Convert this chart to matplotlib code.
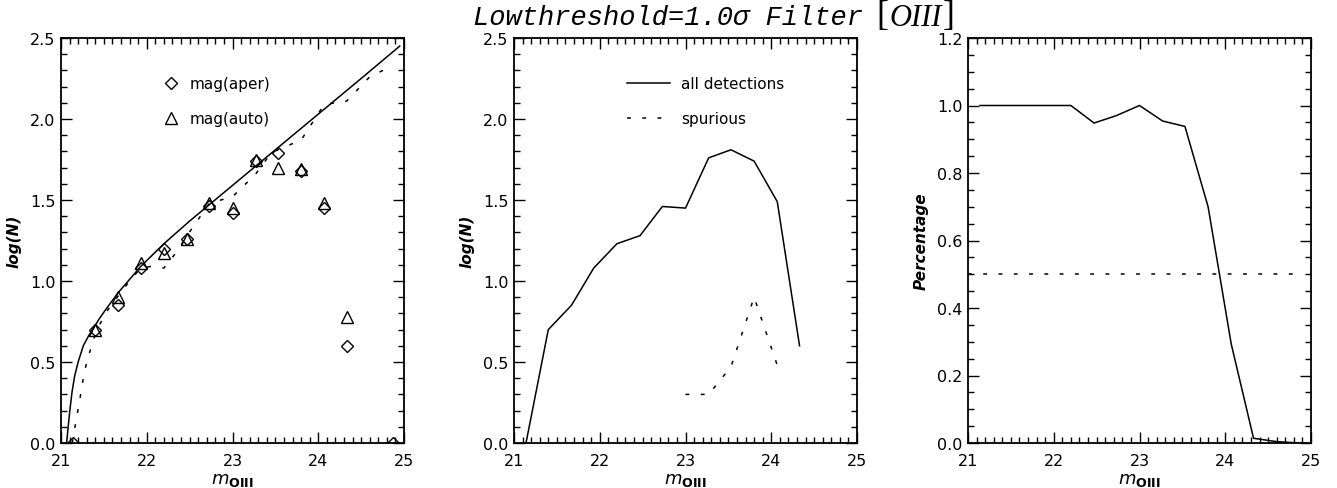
import matplotlib
matplotlib.use("Agg")
import matplotlib.pyplot as plt
from matplotlib.ticker import MultipleLocator, FormatStrFormatter

# magnitude bins
mag_bins = [21.14, 21.40, 21.67, 21.93, 22.20, 22.47, 22.73, 23.00,
            23.27, 23.53, 23.80, 24.07, 24.33, 24.60, 24.87]

# panel 1: counts per bin
aper_x = [21.14, 21.40, 21.67, 21.93, 22.20, 22.47, 22.73, 23.00,
          23.27, 23.53, 23.80, 24.07, 24.33, 24.87]
aper_y = [0.0, 0.70, 0.85, 1.08, 1.20, 1.26, 1.46, 1.42,
          1.74, 1.79, 1.68, 1.45, 0.60, 0.0]
auto_x = [21.40, 21.67, 21.93, 22.20, 22.47, 22.73, 23.00,
          23.27, 23.53, 23.80, 24.07, 24.33]
auto_y = [0.70, 0.90, 1.11, 1.17, 1.26, 1.48, 1.45,
          1.75, 1.70, 1.69, 1.48, 0.78]

# model curve (solid) and input distribution (dotted)
fit_x = [21.066, 21.08, 21.105, 21.13, 21.16, 21.20, 21.26, 21.32, 21.38,
         21.45, 21.53, 21.67, 21.80, 21.93, 22.20, 22.50, 23.00, 23.50,
         24.00, 24.50, 24.95]
fit_y = [0.0, 0.08, 0.21, 0.32, 0.415, 0.50, 0.60, 0.66, 0.71,
         0.77, 0.83, 0.93, 1.01, 1.09, 1.23, 1.37, 1.59, 1.81,
         2.03, 2.25, 2.45]
inp_x = [21.13, 21.18, 21.22, 21.26, 21.30, 21.38, 21.45, 21.53, 21.67,
         21.80, 21.93, 22.05, 22.20, 22.35, 22.47, 22.60, 22.73, 23.00,
         23.27, 23.45, 23.53, 23.80, 24.07, 24.33, 24.60, 24.87]
inp_y = [0.0, 0.15, 0.27, 0.40, 0.50, 0.64, 0.73, 0.81, 0.91,
         1.00, 1.08, 1.09, 1.08, 1.18, 1.28, 1.38, 1.48, 1.52,
         1.66, 1.79, 1.81, 1.87, 2.09, 2.11, 2.26, 2.33]

# panel 2
all_x = [21.14, 21.40, 21.67, 21.93, 22.20, 22.47, 22.73, 23.00,
         23.27, 23.53, 23.80, 24.07, 24.33]
all_y = [0.0, 0.70, 0.85, 1.08, 1.23, 1.28, 1.46, 1.45,
         1.76, 1.81, 1.74, 1.49, 0.60]
spur_x = [23.00, 23.27, 23.53, 23.80, 24.07]
spur_y = [0.30, 0.30, 0.47, 0.90, 0.48]

# panel 3
pct_y = [1.0, 1.0, 1.0, 1.0, 1.0, 0.948, 0.97, 1.0,
         0.954, 0.938, 0.70, 0.293, 0.014, 0.004, 0.0]
half_level = 0.5

DOT = (0, (2.5, 7.5))
plt.rcParams['font.family'] = 'DejaVu Sans'
plt.rcParams['mathtext.fontset'] = 'dejavusans'

fig = plt.figure(figsize=(13.37, 4.89), dpi=100)
W, H = 1337.0, 489.0
lefts = [61, 514, 968]
axes = [fig.add_axes([l / W, 1 - 444 / H, 343 / W, 405 / H]) for l in lefts]


def style(ax, ymax, ymaj, ymin_step, ylabel):
    ax.set_xlim(21, 25)
    ax.set_ylim(0, ymax)
    ax.xaxis.set_major_locator(MultipleLocator(1))
    ax.xaxis.set_minor_locator(MultipleLocator(0.1))
    ax.yaxis.set_major_locator(MultipleLocator(ymaj))
    ax.yaxis.set_minor_locator(MultipleLocator(ymin_step))
    ax.yaxis.set_major_formatter(FormatStrFormatter('%.1f'))
    ax.tick_params(which='both', direction='in', top=True, right=True,
                   width=1, labelsize=11.5)
    ax.tick_params(axis='y', pad=4)
    ax.tick_params(axis='x', pad=7)
    ax.tick_params(which='major', length=8)
    ax.tick_params(which='minor', length=4)
    for s in ax.spines.values():
        s.set_linewidth(1.3)
    ax.set_xlabel(r'$m_{\mathbf{OIII}}$', fontsize=13, labelpad=2)
    ax.set_ylabel(ylabel, fontsize=11, fontweight='bold', style='italic',
                  labelpad=6)


# panel 1
ax = axes[0]
style(ax, 2.5, 0.5, 0.1, 'log(N)')
ax.plot(fit_x, fit_y, color='black', lw=1.1)
ax.plot(inp_x, inp_y, color='black', lw=1.1, ls=DOT)
ax.plot(aper_x, aper_y, ls='none', marker='D', ms=6.5, mfc='none',
        mec='black', mew=1, label='mag(aper)')
ax.plot(auto_x, auto_y, ls='none', marker='^', ms=9, mfc='none',
        mec='black', mew=1, label='mag(auto)')
ax.legend(loc='upper left', bbox_to_anchor=(0.255, 0.94), frameon=False,
          fontsize=11, labelspacing=1.3, handletextpad=0.6, handlelength=1.2)

# panel 2
ax = axes[1]
style(ax, 2.5, 0.5, 0.1, 'log(N)')
ax.plot(all_x, all_y, color='black', lw=1.1, label='all detections')
ax.plot(spur_x, spur_y, color='black', lw=1.1, ls=DOT, label='spurious')
ax.legend(loc='upper left', bbox_to_anchor=(0.29, 0.94), frameon=False,
          fontsize=11, labelspacing=1.3, handletextpad=0.7, handlelength=2.8)

# panel 3
ax = axes[2]
style(ax, 1.2, 0.2, 0.05, 'Percentage')
ax.plot(mag_bins, pct_y, color='black', lw=1.1)
ax.plot([21, 24.85], [half_level, half_level], color='black', lw=1.1, ls=DOT)

fig.text(473 / W, 1 - 18 / H, 'Lowthreshold=1.0\u03c3 Filter', fontsize=19.5,
         family='Liberation Mono', style='italic', va='center', ha='left')
fig.text(876 / W, 1 - 17 / H, '[', fontsize=26, family='Liberation Serif',
         va='center', ha='left')
fig.text(889 / W, 1 - 18 / H, 'OIII', fontsize=22, family='Liberation Serif',
         style='italic', va='center', ha='left')
fig.text(943 / W, 1 - 17 / H, ']', fontsize=26, family='Liberation Serif',
         va='center', ha='left')

fig.savefig('out.png', dpi=100)
